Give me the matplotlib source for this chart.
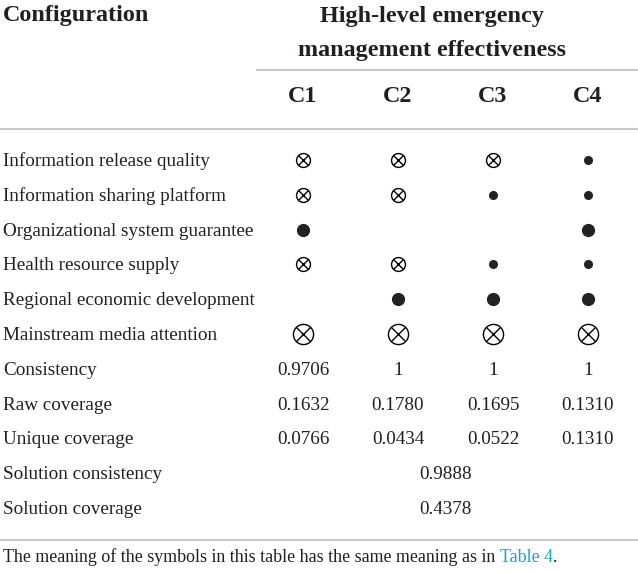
import matplotlib
matplotlib.use("Agg")
import matplotlib.pyplot as plt

INK, RULE, LINK = "#231f20", "#c8c8c8", "#1aa3c4"

conditions = [
    "Information release quality",
    "Information sharing platform",
    "Organizational system guarantee",
    "Health resource supply",
    "Regional economic development",
    "Mainstream media attention",
]
configs = ["C1", "C2", "C3", "C4"]
# A = core absent, a = peripheral absent, P = core present, p = peripheral present
symbols = {
    "C1": ["a", "a", "P", "a", "", "A"],
    "C2": ["a", "a", "", "a", "P", "A"],
    "C3": ["a", "p", "", "p", "P", "A"],
    "C4": ["p", "p", "P", "p", "P", "A"],
}
stat_names = ["Consistency", "Raw coverage", "Unique coverage"]
stat_values = [
    ["0.9706", "1", "1", "1"],
    ["0.1632", "0.1780", "0.1695", "0.1310"],
    ["0.0766", "0.0434", "0.0522", "0.1310"],
]
solution_names = ["Solution consistency", "Solution coverage"]
solution_values = ["0.9888", "0.4378"]
outcome = ["High-level emergency", "management effectiveness"]
note = "The meaning of the symbols in this table has the same meaning as in "
note_link = "Table 4"

plt.rcParams.update({"font.family": ["Liberation Serif", "DejaVu Serif"]})
fig = plt.figure(figsize=(6.38, 5.73), dpi=100)
ax = fig.add_axes([0, 0, 1, 1])
ax.set_xlim(0, 638)
ax.set_ylim(573, 0)
ax.axis("off")

col_x = [303 + 95 * i for i in range(len(configs))]
row0, step = 160, 34.8
fs, hfs = 13.8, 17.4
base = 6.0  # baseline offset below row centre

# header
ax.text(3, 21, "Configuration", fontsize=hfs, fontweight="bold", color=INK, va="baseline")
for k, line in enumerate(outcome):
    ax.text(432, 22 + 34 * k, line, fontsize=hfs, fontweight="bold", color=INK,
            ha="center", va="baseline")
ax.plot([257, 638], [69.5, 69.5], color=RULE, lw=1.5)
for x, c in zip(col_x, configs):
    ax.text(x, 102, c, fontsize=hfs, fontweight="bold", color=INK, ha="center", va="baseline")
ax.plot([0, 638], [129, 129], color=RULE, lw=1.5)

# condition rows
for i, name in enumerate(conditions):
    y = row0 + step * i
    ax.text(3, y + base, name, fontsize=fs, color=INK, va="baseline")
    for x, c in zip(col_x, configs):
        s = symbols[c][i]
        if s in ("A", "a"):
            d = 14.5 if s == "A" else 10
            ax.plot(x, y, "o", ms=d, mfc="white", mec="black", mew=1.0)
            ax.plot(x, y, "x", ms=d * 0.7, mec="black", mew=1.0)
        elif s in ("P", "p"):
            d = 8.5 if s == "P" else 5.5
            ax.plot(x, y, "o", ms=d, mfc="#222222", mec="#222222")

# statistics rows
for j, (name, vals) in enumerate(zip(stat_names, stat_values)):
    y = row0 + step * (len(conditions) + j)
    ax.text(3, y + base, name, fontsize=fs, color=INK, va="baseline")
    for x, v in zip(col_x, vals):
        ax.text(x, y + base, v, fontsize=fs, color=INK, ha="center", va="baseline")

mid = (col_x[0] + col_x[-1]) / 2
for k, (name, v) in enumerate(zip(solution_names, solution_values)):
    y = row0 + step * (len(conditions) + len(stat_names) + k)
    ax.text(3, y + base, name, fontsize=fs, color=INK, va="baseline")
    ax.text(mid, y + base, v, fontsize=fs, color=INK, ha="center", va="baseline")

ax.plot([0, 638], [540, 540], color=RULE, lw=1.5)

# footnote with coloured reference
nfs = 12.9
t1 = ax.text(3, 566, note, fontsize=nfs, color=INK, va="bottom")
t2 = ax.annotate(note_link, xy=(1, 0), xycoords=t1, fontsize=nfs, color=LINK, va="bottom")
ax.annotate(".", xy=(1, 0), xycoords=t2, fontsize=nfs, color=INK, va="bottom")

fig.savefig("out.png", dpi=100)
